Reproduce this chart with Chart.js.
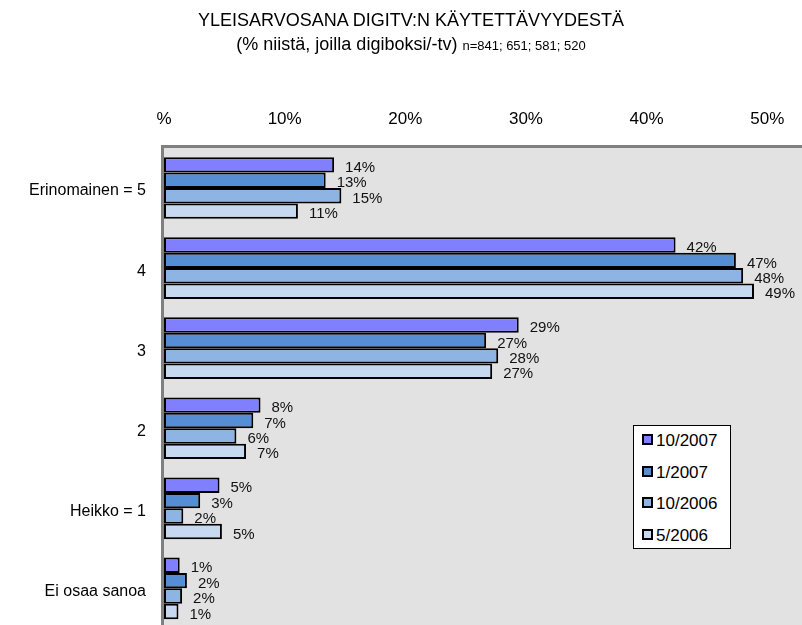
<!DOCTYPE html>
<html>
<head>
<meta charset="utf-8">
<script src="https://cdn.jsdelivr.net/npm/chart.js@4/dist/chart.umd.min.js"></script>
<style>
  body { margin: 0; overflow: hidden; background: #fff; font-family: "Liberation Sans", Arial, sans-serif; }
  #wrap { position: relative; width: 802px; height: 625px; overflow: hidden; }
  #chart { position: absolute; left: 0; top: 0; }
  .title { position: absolute; left: 0; width: 822px; text-align: center; color: #000; white-space: nowrap; }
  #t1 { top: 10px; font-size: 18px; }
  #t2 { top: 34px; font-size: 18px; }
  #t2 small { font-size: 13px; }
  #legend { position: absolute; left: 633px; top: 425px; width: 96px; height: 122px;
    border: 1.5px solid #000; background: #fff; }
  .item { position: absolute; left: 8px; font-size: 17px; line-height: 18px; color: #000; }
  .item i { display: inline-block; width: 7px; height: 7px; border: 2px solid #000; margin-right: 3px; vertical-align: 1px; }
</style>
</head>
<body>
<div id="wrap">
  <canvas id="chart" width="830" height="656"></canvas>
  <div class="title" id="t1">YLEISARVOSANA DIGITV:N KÄYTETTÄVYYDESTÄ</div>
  <div class="title" id="t2">(% niistä, joilla digiboksi/-tv) <small>n=841; 651; 581; 520</small></div>
  <div id="legend"></div>
</div>
<script>
var categories = ["Erinomainen = 5", "4", "3", "2", "Heikko = 1", "Ei osaa sanoa"];
var seriesNames = ["10/2007", "1/2007", "10/2006", "5/2006"];
var seriesColors = ["#8080ff", "#558ed5", "#8eb4e3", "#c6d9f1"];
var oct2007 = [14.1, 42.4, 29.4, 8.0, 4.6, 1.3];
var jan2007 = [13.4, 47.4, 26.7, 7.4, 3.0, 1.9];
var oct2006 = [14.7, 48.0, 27.7, 6.0, 1.6, 1.5];
var may2006 = [11.1, 48.9, 27.2, 6.8, 4.8, 1.2];
var tickValues = [0, 10, 20, 30, 40, 50];
var tickLabels = ["%", "10%", "20%", "30%", "40%", "50%"];

var seriesValues = [oct2007, jan2007, oct2006, may2006];

var FONT = "'Liberation Sans', Arial, sans-serif";

// grey plot area with the darker top/left edge
var plotBackground = {
  id: "plotBackground",
  beforeDraw: function (chart) {
    var a = chart.chartArea;
    var ctx = chart.ctx;
    ctx.save();
    ctx.fillStyle = "#e2e2e2";
    ctx.fillRect(a.left, a.top, a.right - a.left, a.bottom - a.top);
    ctx.strokeStyle = "#808080";
    ctx.lineWidth = 3;
    ctx.beginPath();
    ctx.moveTo(a.left - 1.5, a.bottom);
    ctx.lineTo(a.left - 1.5, a.top - 1.5);
    ctx.lineTo(a.right, a.top - 1.5);
    ctx.stroke();
    ctx.restore();
  },
};

// value labels at bar ends
var barLabels = {
  id: "barLabels",
  afterDatasetsDraw: function (chart) {
    var ctx = chart.ctx;
    ctx.save();
    ctx.font = "15px " + FONT;
    ctx.fillStyle = "#111";
    ctx.textBaseline = "middle";
    ctx.textAlign = "left";
    chart.data.datasets.forEach(function (ds, i) {
      chart.getDatasetMeta(i).data.forEach(function (bar, j) {
        ctx.fillText(Math.round(ds.data[j]) + "%", bar.x + 11, bar.y + 3);
      });
    });
    ctx.restore();
  },
};

var config = {
  type: "bar",
  data: {
    labels: categories,
    datasets: seriesNames.map(function (name, i) {
      return {
        label: name,
        data: seriesValues[i],
        backgroundColor: seriesColors[i],
        borderColor: "#000",
        borderWidth: 2,
        borderSkipped: false,
        categoryPercentage: 0.77,
        barPercentage: 1.0,
      };
    }),
  },
  options: {
    indexAxis: "y",
    responsive: false,
    animation: false,
    layout: { padding: 0 },
    plugins: {
      legend: { display: false },
      tooltip: { enabled: false },
    },
    scales: {
      x: {
        position: "top",
        min: 0,
        max: 55.2,
        grid: { display: false, drawTicks: false },
        border: { display: false },
        afterFit: function (axis) {
          axis.height = 148;
        },
        afterBuildTicks: function (axis) {
          axis.ticks = tickValues.map(function (v) {
            return { value: v };
          });
        },
        ticks: {
          padding: 18,
          color: "#000",
          font: { family: FONT, size: 17 },
          callback: function (value) {
            return tickLabels[tickValues.indexOf(value)];
          },
        },
      },
      y: {
        grid: { display: false, drawTicks: false },
        border: { display: false },
        afterFit: function (axis) {
          axis.width = 164;
        },
        ticks: {
          padding: 18,
          labelOffset: 3,
          color: "#000",
          font: { family: FONT, size: 16 },
        },
      },
    },
  },
  plugins: [plotBackground, barLabels],
};

window.onload = function () {
  var ctx = document.getElementById("chart").getContext("2d");
  window.myChart = new Chart(ctx, config);

  var legend = document.getElementById("legend");
  seriesNames.forEach(function (name, i) {
    var item = document.createElement("div");
    item.className = "item";
    item.style.top = 6 + i * 31.5 + "px";
    item.innerHTML = '<i style="background:' + seriesColors[i] + '"></i>' + name;
    legend.appendChild(item);
  });
};
</script>
</body>
</html>
